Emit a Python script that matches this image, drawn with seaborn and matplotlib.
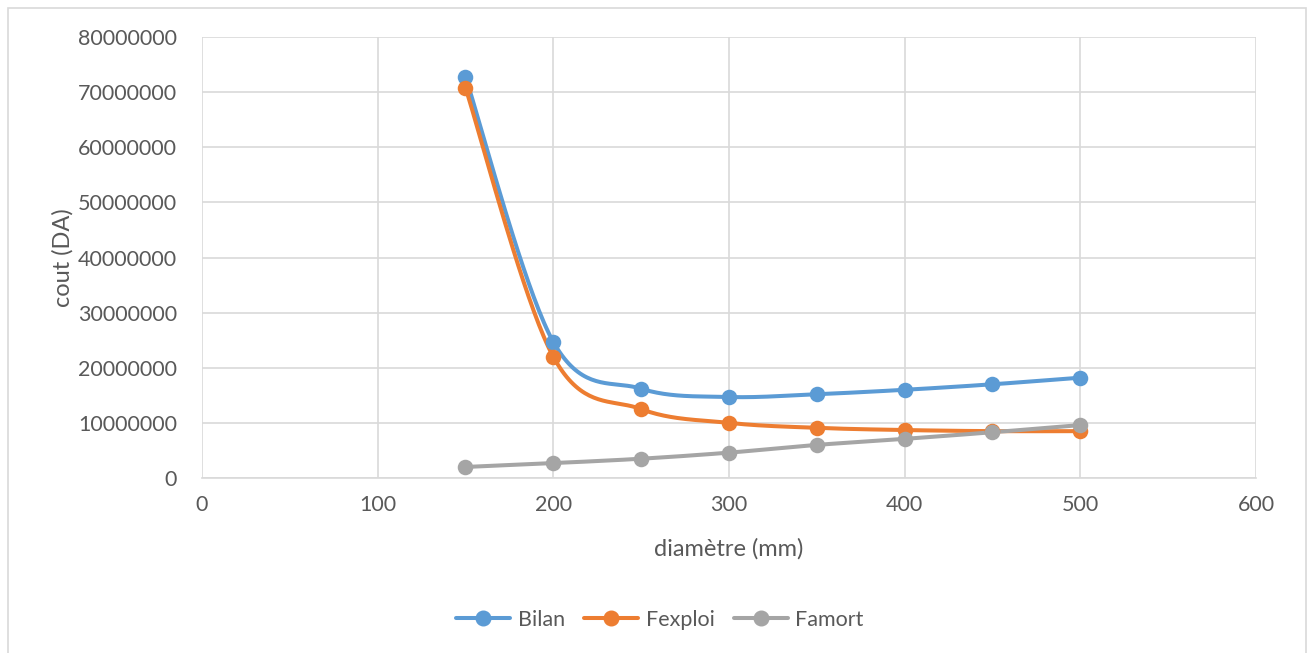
import numpy as np
import pandas as pd
import matplotlib
matplotlib.use("Agg")
import matplotlib.pyplot as plt
import seaborn as sns
from matplotlib.patches import Rectangle

diametre = [150, 200, 250, 300, 350, 400, 450, 500]
bilan = [72.8e6, 24.7e6, 16.2e6, 14.7e6, 15.2e6, 16.0e6, 17.0e6, 18.2e6]
fexploi = [70.8e6, 22.0e6, 12.5e6, 10.0e6, 9.1e6, 8.7e6, 8.5e6, 8.5e6]
famort = [2.0e6, 2.7e6, 3.5e6, 4.6e6, 6.0e6, 7.1e6, 8.3e6, 9.6e6]
series_names = ["Bilan", "Fexploi", "Famort"]
colors = ["#5B9BD5", "#ED7D31", "#A5A5A5"]
x_ticks = [0, 100, 200, 300, 400, 500, 600]
y_ticks = [0, 10000000, 20000000, 30000000, 40000000, 50000000, 60000000, 70000000, 80000000]


def smooth(x, y, n=40):
    x = np.asarray(x, float)
    y = np.asarray(y, float)
    xs, ys = [], []
    m = len(x)
    for i in range(m - 1):
        p0 = np.array([x[max(i - 1, 0)], y[max(i - 1, 0)]])
        p1 = np.array([x[i], y[i]])
        p2 = np.array([x[i + 1], y[i + 1]])
        p3 = np.array([x[min(i + 2, m - 1)], y[min(i + 2, m - 1)]])
        c1 = p1 + (p2 - p0) / 6.0
        c2 = p2 - (p3 - p1) / 6.0
        t = np.linspace(0, 1, n)[:, None]
        pts = ((1 - t) ** 3) * p1 + 3 * ((1 - t) ** 2) * t * c1 + 3 * (1 - t) * t ** 2 * c2 + t ** 3 * p2
        xs.extend(pts[:, 0])
        ys.extend(pts[:, 1])
    return np.array(xs), np.array(ys)


sns.set_theme(style="white")
plt.rcParams["font.family"] = ["Lato", "DejaVu Sans"]

fig = plt.figure(figsize=(13.08, 6.53), dpi=100)
ax = fig.add_axes([0.1544, 0.268, 0.8058, 0.6753])

fig.patches.append(Rectangle((8 / 1308, -0.01), 1 - 8 / 1308 - 2 / 1308, 1 - 8 / 653 + 0.01,
                             transform=fig.transFigure, fill=False,
                             edgecolor="#D9D9D9", linewidth=1.2))

data_series = [bilan, fexploi, famort]
for name, vals, col in zip(series_names, data_series, colors):
    sx, sy = smooth(diametre, vals)
    df_s = pd.DataFrame({"x": sx, "y": sy})
    sns.lineplot(data=df_s, x="x", y="y", ax=ax, color=col, linewidth=2.9,
                 sort=False, estimator=None, zorder=3)
    df_p = pd.DataFrame({"x": diametre, "y": vals})
    sns.scatterplot(data=df_p, x="x", y="y", ax=ax, color=col, s=125,
                    edgecolor=col, linewidth=0, zorder=4)

ax.set_xlim(0, 600)
ax.set_ylim(0, 80000000)
ax.set_xticks(x_ticks)
ax.set_yticks(y_ticks)
ax.set_xticklabels([str(v) for v in x_ticks])
ax.set_yticklabels([str(v) for v in y_ticks])
ax.grid(True, color="#D9D9D9", linewidth=1.2)
ax.set_axisbelow(True)
for s in ["top", "right", "left"]:
    ax.spines[s].set_visible(False)
ax.spines["bottom"].set_color("#D9D9D9")
ax.spines["bottom"].set_linewidth(1.2)
ax.tick_params(axis="both", length=0, labelsize=15.5, colors="#595959")
ax.tick_params(axis="y", pad=18)
ax.tick_params(axis="x", pad=12)
ax.set_xlabel("diamètre (mm)", fontsize=17, color="#595959", labelpad=17)
ax.set_ylabel("cout (DA)", fontsize=17, color="#595959", labelpad=3)

handles = [plt.Line2D([0], [0], color=c, linewidth=2.9, marker="o", markersize=10.5)
           for c in colors]
leg = fig.legend(handles, series_names, loc="center", bbox_to_anchor=(0.5045, 1 - 620 / 653),
                 ncol=3, frameon=False, fontsize=15.5, handlelength=2.5, columnspacing=0.9,
                 handletextpad=0.35)
for t in leg.get_texts():
    t.set_color("#595959")

fig.savefig("out.png", dpi=100)
